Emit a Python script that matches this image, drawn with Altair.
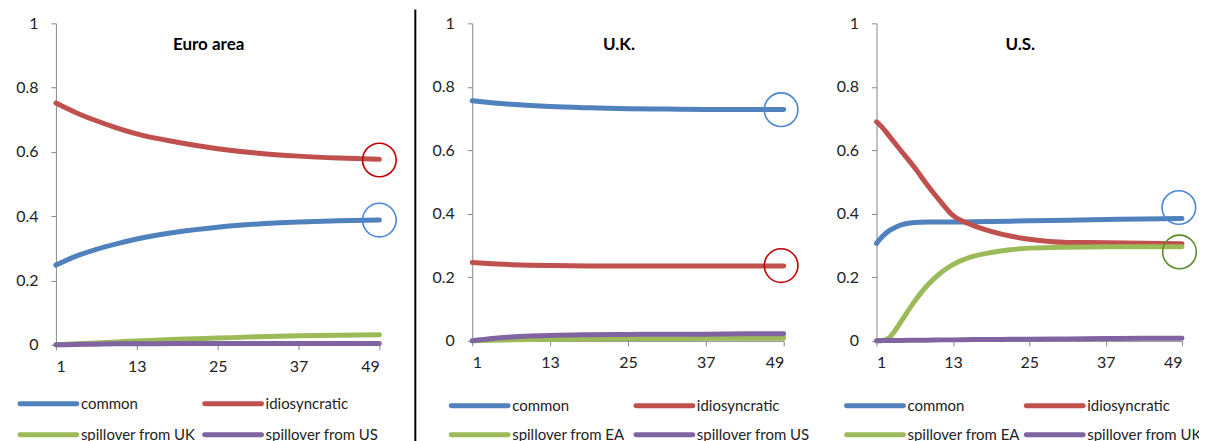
import altair as alt
import pandas as pd

# ---------------- data ----------------
x_ea = [1, 4, 7, 10, 13, 19, 25, 31, 37, 43, 49]
ea_common = [0.248, 0.276, 0.297, 0.314, 0.329, 0.351, 0.366, 0.376, 0.382, 0.386, 0.388]
ea_idio = [0.752, 0.722, 0.697, 0.675, 0.656, 0.630, 0.610, 0.596, 0.587, 0.581, 0.577]
ea_spill_uk = [0.000, 0.003, 0.006, 0.009, 0.012, 0.017, 0.021, 0.025, 0.028, 0.030, 0.031]
ea_spill_us = [0.000, 0.001, 0.002, 0.003, 0.003, 0.004, 0.004, 0.004, 0.004, 0.004, 0.004]

x_uk = [1, 4, 7, 10, 13, 19, 25, 31, 37, 43, 49]
uk_common = [0.756, 0.750, 0.745, 0.741, 0.738, 0.734, 0.731, 0.730, 0.729, 0.729, 0.729]
uk_idio = [0.247, 0.243, 0.240, 0.238, 0.237, 0.236, 0.236, 0.236, 0.236, 0.236, 0.236]
uk_spill_ea = [0.000, 0.002, 0.003, 0.004, 0.005, 0.006, 0.007, 0.007, 0.008, 0.008, 0.008]
uk_spill_us = [0.000, 0.007, 0.012, 0.015, 0.017, 0.019, 0.020, 0.021, 0.021, 0.022, 0.022]

x_us = [1, 2, 3, 4, 5, 7, 9, 11, 13, 16, 19, 22, 25, 31, 37, 43, 49]
us_common = [0.307, 0.330, 0.347, 0.358, 0.366, 0.373, 0.374, 0.374, 0.374, 0.375, 0.376, 0.377, 0.378, 0.380, 0.382, 0.384, 0.385]
us_idio = [0.690, 0.670, 0.645, 0.620, 0.595, 0.545, 0.490, 0.440, 0.395, 0.365, 0.345, 0.330, 0.320, 0.310, 0.309, 0.307, 0.306]
us_spill_ea = [0.000, 0.001, 0.010, 0.035, 0.065, 0.125, 0.175, 0.213, 0.240, 0.265, 0.278, 0.287, 0.292, 0.295, 0.296, 0.296, 0.296]
us_spill_uk = [0.000, 0.001, 0.001, 0.001, 0.001, 0.002, 0.002, 0.003, 0.003, 0.004, 0.004, 0.005, 0.005, 0.006, 0.007, 0.008, 0.008]

names_ea = ["common", "idiosyncratic", "spillover from UK", "spillover from US"]
names_uk = ["common", "idiosyncratic", "spillover from EA", "spillover from US"]
names_us = ["common", "idiosyncratic", "spillover from EA", "spillover from UK"]

titles = ["Euro area", "U.K.", "U.S."]
x_ticks = [1, 13, 25, 37, 49]
y_ticks = [0, 0.2, 0.4, 0.6, 0.8, 1]

# highlight circles at the end of the lines
ea_circ_x = [49, 49]
ea_circ_y = [0.575, 0.388]
ea_circ_c = ["#C00000", "#4A86D8"]
uk_circ_x = [48.6, 48.6]
uk_circ_y = [0.728, 0.237]
uk_circ_c = ["#4A86D8", "#C00000"]
us_circ_x = [48.5, 48.6]
us_circ_y = [0.42, 0.28]
us_circ_c = ["#4A86D8", "#5E8A2C"]

line_colors = ["#4F81BD", "#C0504D", "#9BBB59", "#8064A2"]

FONT = "Lato"
AXIS_GRAY = "#868686"


def long_df(xs, series, names):
    rows = []
    for name, vals in zip(names, series):
        for x, v in zip(xs, vals):
            rows.append({"x": x, "v": v, "s": name})
    return pd.DataFrame(rows)


def panel(title, names, xs, series, cx, cy, cc, w, h, leg_x, leg_y, leg_dy, leg_dx,
          separator=None):
    df = long_df(xs, series, names)
    cscale = alt.Scale(domain=names, range=line_colors)
    xenc = alt.X("x:Q", scale=alt.Scale(domain=[1, 49], nice=False),
                 axis=alt.Axis(values=x_ticks, title=None, grid=False,
                               domainColor=AXIS_GRAY, tickColor=AXIS_GRAY, tickSize=5,
                               labelFont=FONT, labelFontSize=16, labelColor="#222",
                               labelPadding=9))
    yenc = alt.Y("v:Q", scale=alt.Scale(domain=[0, 1], nice=False),
                 axis=alt.Axis(values=y_ticks, title=None, grid=False, format="~g",
                               domainColor=AXIS_GRAY, tickColor=AXIS_GRAY, tickSize=5,
                               labelFont=FONT, labelFontSize=16, labelColor="#222",
                               labelPadding=13))
    lines = alt.Chart(df).mark_line(strokeWidth=5, strokeCap="round",
                                    interpolate="monotone").encode(
        x=xenc, y=yenc,
        color=alt.Color("s:N", sort=names, scale=cscale, legend=None),
    )
    cdf = pd.DataFrame({"x": cx, "v": cy, "c": cc})
    circles = alt.Chart(cdf).mark_point(shape="circle", filled=False, size=1134,
                                        strokeWidth=1.6, opacity=1).encode(
        x="x:Q", y="v:Q", stroke=alt.Stroke("c:N", scale=None))
    tdf = pd.DataFrame({"t": [title]})
    ttl = alt.Chart(tdf).mark_text(font=FONT, fontSize=17, fontWeight="bold",
                                   color="black").encode(
        text="t:N", x=alt.value(w / 2 - 9), y=alt.value(22))

    # legend (2 x 2 grid below the plot), laid out from the entry index
    ldf = pd.DataFrame({"s": names, "i": list(range(len(names)))})
    leg_base = alt.Chart(ldf).transform_calculate(
        lx=f"{leg_x} + (datum.i % 2) * {leg_dx}",
        ly=f"{leg_y} + floor(datum.i / 2) * {leg_dy}",
    ).transform_calculate(
        lx2="datum.lx + 57",
        tx="datum.lx + 61",
    )
    leg_lines = leg_base.mark_rule(strokeWidth=5, strokeCap="round").encode(
        x=alt.X("lx:Q", scale=None, axis=None),
        x2="lx2:Q",
        y=alt.Y("ly:Q", scale=None, axis=None),
        color=alt.Color("s:N", sort=names, scale=cscale, legend=None),
    )
    leg_text = leg_base.mark_text(align="left", baseline="middle", font=FONT,
                                  fontSize=15, color="#222").encode(
        x=alt.X("tx:Q", scale=None, axis=None),
        y=alt.Y("ly:Q", scale=None, axis=None),
        text="s:N",
    )
    layers = [lines, circles, ttl, leg_lines, leg_text]
    if separator is not None:
        sdf = pd.DataFrame({"k": [0]})
        sep = alt.Chart(sdf).mark_rule(color="black", strokeWidth=2).encode(
            x=alt.value(separator), y=alt.value(-14), y2=alt.value(h + 130))
        layers.append(sep)
    return alt.layer(*layers).properties(width=w, height=h)


p1 = panel(titles[0], names_ea, x_ea, [ea_common, ea_idio, ea_spill_uk, ea_spill_us],
           ea_circ_x, ea_circ_y, ea_circ_c, 324, 322, -36, 381, 31, 185)
p2 = panel(titles[1], names_uk, x_uk, [uk_common, uk_idio, uk_spill_ea, uk_spill_us],
           uk_circ_x, uk_circ_y, uk_circ_c, 312, 318, -21, 383, 29, 185, separator=-57)
p3 = panel(titles[2], names_us, x_us, [us_common, us_idio, us_spill_ea, us_spill_uk],
           us_circ_x, us_circ_y, us_circ_c, 306, 318, -30, 383, 29, 180)

chart = alt.hconcat(p1, p2, p3, spacing=93, bounds="flush").resolve_scale(
    color="independent"
).properties(
    padding={"left": 7, "top": 0, "right": -3, "bottom": 0}
).configure_view(stroke=None)

chart.save("out.html", embed_options={"renderer": "svg", "actions": False})
